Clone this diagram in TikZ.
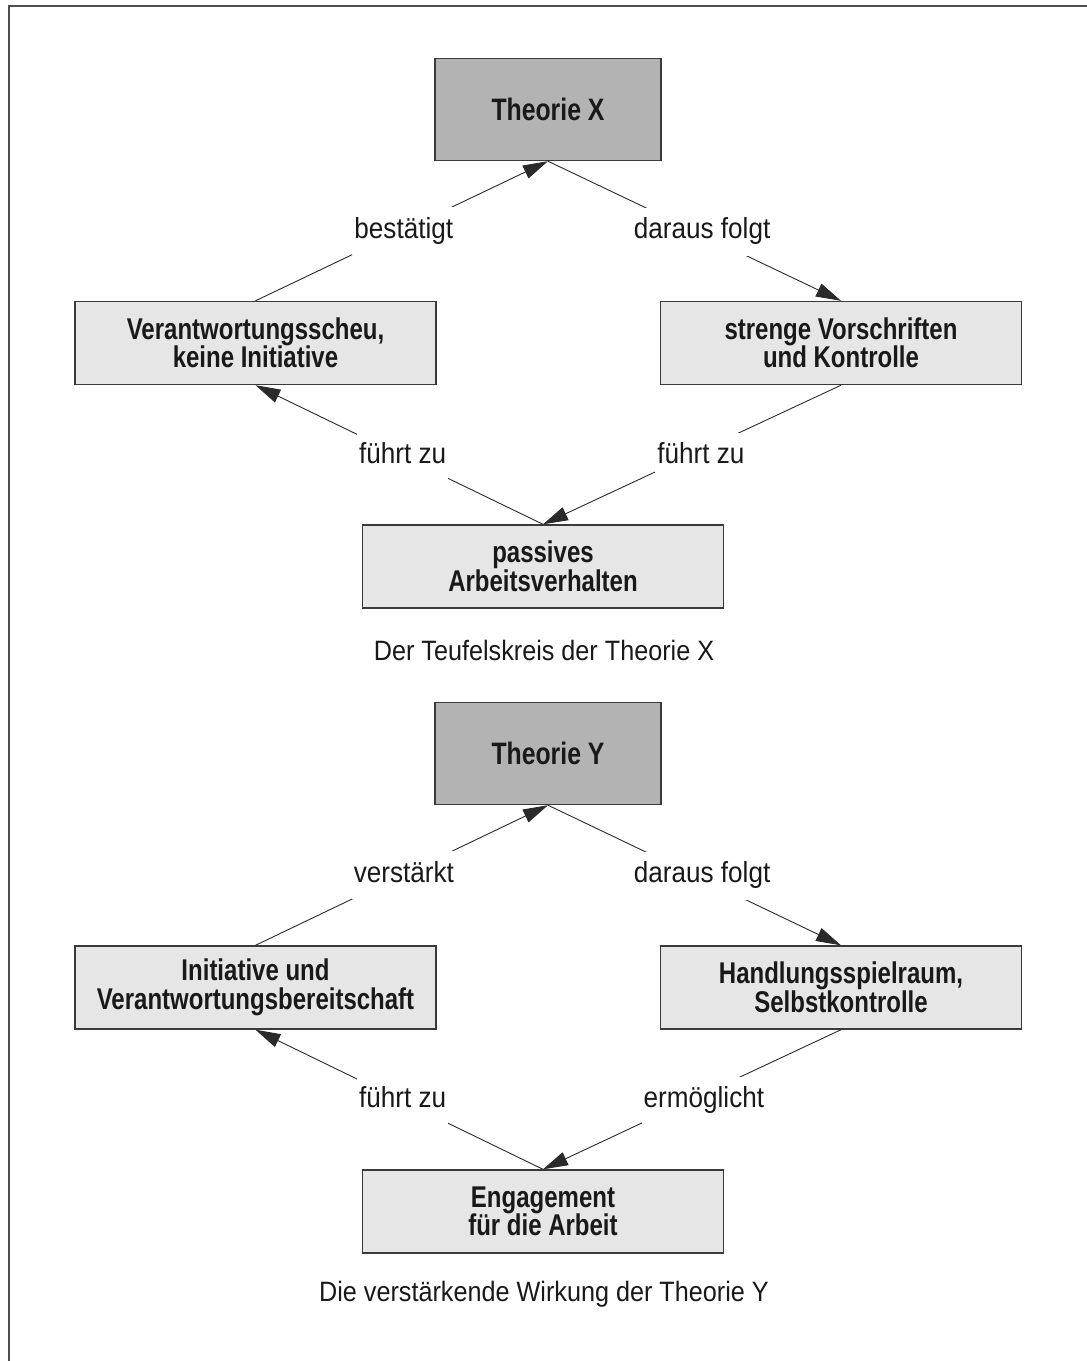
\documentclass[tikz,border=0pt]{standalone}
\usepackage{fontspec}
\newfontfamily\cfr{Liberation Sans}[FakeStretch=0.9]
\newfontfamily\cfb{Liberation Sans}[FakeStretch=0.8]
\usetikzlibrary{arrows.meta}
\definecolor{boxgray}{HTML}{B3B3B3}
\definecolor{boxlight}{HTML}{E6E6E6}
\definecolor{edge}{HTML}{3A3A3A}
\definecolor{lineg}{HTML}{2A2A2A}
\tikzset{
  theobox/.style={draw=edge, line width=1.4pt, fill=boxgray, minimum width=226pt, minimum height=102pt, inner sep=0pt, align=center, font=\cfb\bfseries\fontsize{31}{29}\selectfont, text=black!90},
  stepbox/.style={draw=edge, line width=1.4pt, fill=boxlight, minimum width=361pt, minimum height=83pt, inner sep=0pt, align=center, font=\cfb\bfseries\fontsize{30}{28.5}\selectfont, text=black!90},
  lbl/.style={fill=white, font=\cfr\fontsize{29}{30}\selectfont, text height=21pt, text depth=7pt, inner xsep=2pt, inner ysep=10pt, text=black!90},
  captxt/.style={font=\cfr\fontsize{28}{30}\selectfont, inner sep=0pt, text=black!90},
  conn/.style={draw=lineg, line width=0.9pt, -{Triangle[length=25pt,width=14pt]}}
}
\begin{document}
\begin{tikzpicture}[x=1pt,y=-1pt]
\useasboundingbox (0,0) rectangle (1087,1361);
\draw[draw=edge!90, line width=2pt] (8.5,1361) coordinate (fa) -- (8.5,5.5) coordinate (fb) -- (1087,5.5) coordinate (fc);

% Theorie X
\node[theobox] (tx) at (548,109.5) {Theorie X};
\node[stepbox] (lx) at (255.5,343) {Verantwortungsscheu,\\keine Initiative};
\node[stepbox] (rx) at (841,343) {strenge Vorschriften\\und Kontrolle};
\node[stepbox] (bx) at (543,566.5) {passives\\Arbeitsverhalten};
\node[captxt] (cx) at (544,650) {Der Teufelskreis der Theorie X};

\draw[conn] (lx.north) -- node[lbl, pos=0.507, yshift=-1pt] (l1) {bestätigt} (tx.south);
\draw[conn] (tx.south) -- node[lbl, pos=0.526, yshift=3pt] (l2) {daraus folgt} (rx.north);
\draw[conn] (rx.south) -- node[lbl, pos=0.47, yshift=-6pt] (l3) {führt zu} (bx.north);
\draw[conn] (bx.north) -- node[lbl, pos=0.488] (l4) {führt zu} (lx.south);

% Theorie Y
\node[theobox] (ty) at (548,753.5) {Theorie Y};
\node[stepbox] (ly) at (255.5,987.5) {Initiative und\\Verantwortungsbereitschaft};
\node[stepbox] (ry) at (841,987.5) {Handlungsspielraum,\\Selbstkontrolle};
\node[stepbox] (by) at (543,1211.5) {Engagement\\für die Arbeit};
\node[captxt] (cy) at (544,1294) {Die verstärkende Wirkung der Theorie Y};

\draw[conn] (ly.north) -- node[lbl, pos=0.507, yshift=-1pt] (m1) {verstärkt} (ty.south);
\draw[conn] (ty.south) -- node[lbl, pos=0.526, yshift=3pt] (m2) {daraus folgt} (ry.north);
\draw[conn] (ry.south) -- node[lbl, pos=0.46, yshift=-7pt] (m3) {ermöglicht} (by.north);
\draw[conn] (by.north) -- node[lbl, pos=0.488, yshift=1pt] (m4) {führt zu} (ly.south);
\end{tikzpicture}
\end{document}
